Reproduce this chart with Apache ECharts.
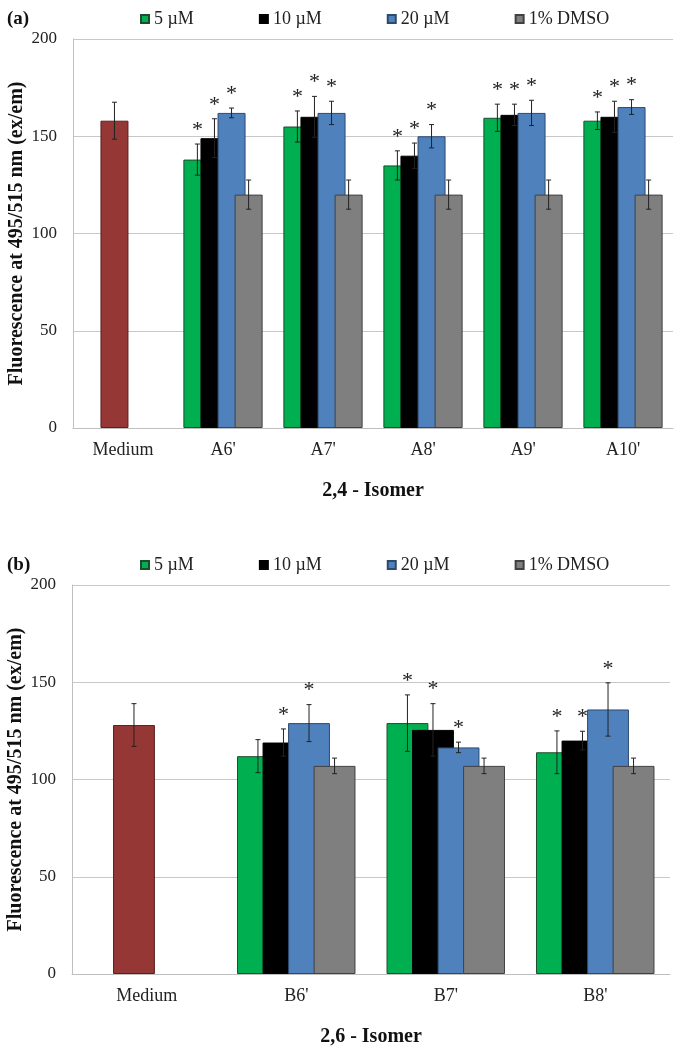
<!DOCTYPE html>
<html>
<head>
<meta charset="utf-8">
<script src="https://cdn.jsdelivr.net/npm/echarts@6/dist/echarts.min.js"></script>
<style>html,body{margin:0;padding:0;background:#fff}#c{width:681px;height:1050px}</style>
</head>
<body>
<div id="c"></div>
<script>
// ---------- Data ----------
const seriesNames = ['5 µM', '10 µM', '20 µM', '1% DMSO'];
const yTicks = [0, 50, 100, 150, 200];

// Panel (a) 2,4 - Isomer
const categoriesA = ['Medium', "A6'", "A7'", "A8'", "A9'", "A10'"];
const mediumA = 158, mediumErrA = 9.5;
const a5 = [null, 138, 155, 135, 159.5, 158];
const a10 = [null, 149, 160, 140, 161, 160];
const a20 = [null, 162, 162, 150, 162, 165];
const aDMSO = [null, 120, 120, 120, 120, 120];
const a5Err = [null, 8, 8, 7.5, 7, 4.5];
const a10Err = [null, 10, 10.5, 6.5, 5.5, 8];
const a20Err = [null, 2.5, 6, 6, 6.5, 3.8];
const aDMSOErr = [null, 7.5, 7.5, 7.5, 7.5, 7.5];
const a5Sig = [0, 1, 1, 1, 1, 1];
const a10Sig = [0, 1, 1, 1, 1, 1];
const a20Sig = [0, 1, 1, 1, 1, 1];
const aDMSOSig = [0, 0, 0, 0, 0, 0];

// Panel (b) 2,6 - Isomer
const categoriesB = ['Medium', "B6'", "B7'", "B8'"];
const mediumB = 128, mediumErrB = 11;
const b5 = [null, 112, 129, 114];
const b10 = [null, 119, 125.5, 120];
const b20 = [null, 129, 116.5, 136];
const bDMSO = [null, 107, 107, 107];
const b5Err = [null, 8.5, 14.5, 11];
const b10Err = [null, 7, 13.5, 4.8];
const b20Err = [null, 9.5, 2.7, 13.7];
const bDMSOErr = [null, 4, 4, 4];
const b5Sig = [0, 0, 1, 1];
const b10Sig = [0, 1, 1, 1];
const b20Sig = [0, 1, 1, 1];
const bDMSOSig = [0, 0, 0, 0];

// ---------- Styles ----------
const colors = ['#00b050', '#000000', '#4f81bd', '#7f7f7f'];
const borders = ['#1d4d2e', '#000000', '#2c4a70', '#404040'];
const mediumColor = '#953735';
const FONT = '"Liberation Serif", "Times New Roman", serif';
const BAR_W = 0.28, BAR_GAP = -0.39;

function panel(idx, cats, med, medErr, vals, errs, sigs) {
  const series = [];
  const withMed = vals.map((arr, i) => arr.map((v, j) => (i === 1 && j === 0) ? med : v));
  const errsMed = errs.map((arr, i) => arr.map((v, j) => (i === 1 && j === 0) ? medErr : v));
  withMed.forEach((arr, si) => {
    series.push({
      type: 'bar', name: seriesNames[si], xAxisIndex: idx, yAxisIndex: idx,
      barWidth: (BAR_W * 100) + '%', barGap: (BAR_GAP * 100) + '%',
      itemStyle: { color: colors[si], borderColor: borders[si], borderWidth: 1 },
      data: arr.map((v, j) => (si === 1 && j === 0) ?
        { value: v, itemStyle: { color: mediumColor, borderColor: '#5a1f1d' } } : v),
      z: 2 + si
    });
  });
  withMed.forEach((arr, si) => {
    const data = [];
    arr.forEach((v, j) => { if (v != null) data.push([j, v, errsMed[si][j], sigs[si][j]]); });
    series.push({
      type: 'custom', name: seriesNames[si], xAxisIndex: idx, yAxisIndex: idx, z: 10,
      silent: true, legendHoverLink: false,
      data: data,
      renderItem: function (params, api) {
        const c = api.value(0), v = api.value(1), e = api.value(2), s = api.value(3);
        const band = api.size([1, 0])[0];
        const bw = band * BAR_W;
        const step = bw * (1 + BAR_GAP);
        const off = (si - 1.5) * step;
        const top = api.coord([c, v + e]);
        const bot = api.coord([c, v - e]);
        const x = top[0] + off;
        const cap = 2.5;
        const st = { stroke: '#222', lineWidth: 1 };
        const children = [
          { type: 'line', shape: { x1: x, y1: top[1], x2: x, y2: bot[1] }, style: st },
          { type: 'line', shape: { x1: x - cap, y1: top[1], x2: x + cap, y2: top[1] }, style: st },
          { type: 'line', shape: { x1: x - cap, y1: bot[1], x2: x + cap, y2: bot[1] }, style: st }
        ];
        if (s) {
          children.push({ type: 'text', x: x, y: top[1] - 14,
            style: { text: '*', font: '22px ' + FONT, fill: '#222', align: 'center', verticalAlign: 'middle' } });
        }
        return { type: 'group', children: children };
      }
    });
  });
  return series;
}

const chart = echarts.init(document.getElementById('c'), null, { renderer: 'canvas' });

const grids = [
  { left: 73, top: 39, width: 600, height: 389, containLabel: false, outerBoundsMode: 'none' },
  { left: 72, top: 585, width: 598, height: 389, containLabel: false, outerBoundsMode: 'none' }
];
const axisNameStyle = { fontFamily: FONT, fontWeight: 'bold', fontSize: 20, color: '#111' };
function xAxis(idx, cats, name) {
  return {
    type: 'category', gridIndex: idx, data: cats,
    axisLine: { lineStyle: { color: '#bfbfbf', width: 1 } },
    axisTick: { show: false },
    axisLabel: { fontFamily: FONT, fontSize: 18, color: '#222', margin: 13 },
    name: name, nameLocation: 'middle', nameGap: 53, nameMoveOverlap: false, nameTextStyle: axisNameStyle
  };
}
function yAxis(idx) {
  return {
    type: 'value', gridIndex: idx, min: yTicks[0], max: yTicks[yTicks.length - 1], interval: 50,
    axisLine: { show: true, lineStyle: { color: '#bfbfbf', width: 1 } },
    axisTick: { show: false },
    splitLine: { lineStyle: { color: '#c8c8c8', width: 1 } },
    axisLabel: { fontFamily: FONT, fontSize: 17, color: '#222', margin: 16 },
    name: 'Fluorescence at 495/515 nm (ex/em)', nameLocation: 'middle', nameGap: 46,
    nameMoveOverlap: false, nameRotate: 90, nameTextStyle: axisNameStyle
  };
}
function legend(top) {
  return {
    top: top, left: 140, padding: 0, icon: 'rect', itemWidth: 8, itemHeight: 8, itemGap: 65,
    data: seriesNames, selectedMode: false,
    textStyle: { fontFamily: FONT, fontSize: 18, color: '#222' }
  };
}

chart.setOption({
  animation: false,
  backgroundColor: '#fff',
  color: colors,
  grid: grids,
  legend: [legend(10), legend(556)],
  xAxis: [xAxis(0, categoriesA, '2,4 - Isomer'), xAxis(1, categoriesB, '2,6 - Isomer')],
  yAxis: [yAxis(0), yAxis(1)],
  graphic: [
    { type: 'text', left: 7, top: 10, style: { text: '(a)', font: 'bold 19px ' + FONT, fill: '#111' } },
    { type: 'text', left: 7, top: 556, style: { text: '(b)', font: 'bold 19px ' + FONT, fill: '#111' } }
  ],
  series: [].concat(
    panel(0, categoriesA, mediumA, mediumErrA, [a5, a10, a20, aDMSO], [a5Err, a10Err, a20Err, aDMSOErr], [a5Sig, a10Sig, a20Sig, aDMSOSig]),
    panel(1, categoriesB, mediumB, mediumErrB, [b5, b10, b20, bDMSO], [b5Err, b10Err, b20Err, bDMSOErr], [b5Sig, b10Sig, b20Sig, bDMSOSig])
  )
});
</script>
</body>
</html>
